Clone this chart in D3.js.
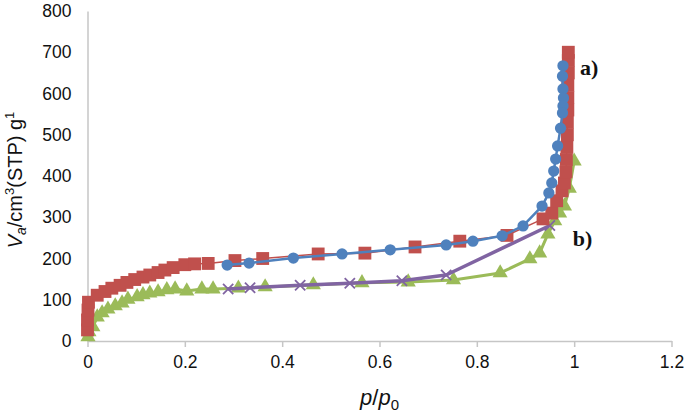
<!DOCTYPE html>
<html><head><meta charset="utf-8">
<script src="https://cdn.jsdelivr.net/npm/d3@7"></script>
<style>body{margin:0;background:#fff}svg{display:block}</style>
</head><body><svg id="c" width="685" height="413"></svg>
<script>
// a) adsorption (red squares)
const redA = [[0,27],[0,51],[0.001,75],[0.002,94],[0.02,111],[0.036,120],[0.05,128],[0.067,135],[0.081,142],[0.097,149],[0.114,155],[0.128,160],[0.145,166],[0.159,172],[0.176,178],[0.2,185],[0.22,187],[0.248,188],[0.303,195],[0.36,200],[0.474,211],[0.57,213],[0.673,228],[0.765,242],[0.862,256],[0.936,296],[0.954,310],[0.964,340],[0.975,364],[0.98,383],[0.983,410],[0.984,440],[0.985,470],[0.986,500],[0.986,530],[0.987,560],[0.987,590],[0.987,620],[0.988,650],[0.988,680],[0.988,700]];
// a) desorption (blue circles)
const blueA = [[0.977,667],[0.976,642],[0.977,611],[0.978,589],[0.977,570],[0.976,553],[0.972,516],[0.966,473],[0.962,441],[0.958,412],[0.954,383],[0.948,359],[0.934,327],[0.895,279],[0.852,255],[0.792,242],[0.737,233],[0.622,221],[0.523,211],[0.423,201],[0.332,189],[0.287,184]];
// b) adsorption (green triangles)
const greenB = [[0.001,10],[0.003,22],[0.011,34],[0.02,58],[0.03,68],[0.042,77],[0.057,85],[0.071,92],[0.083,101],[0.102,107],[0.114,112],[0.128,116],[0.145,119],[0.163,124],[0.18,126],[0.204,121],[0.235,126],[0.258,126],[0.31,128],[0.365,131],[0.464,136],[0.564,141],[0.659,143],[0.752,148],[0.848,165],[0.909,199],[0.929,213],[0.946,259],[0.96,291],[0.97,310],[0.98,327],[0.99,370],[1.0,436]];
// b) desorption (purple crosses)
const purpleB = [[0.95,280],[0.737,160],[0.646,146],[0.539,140],[0.437,135],[0.334,129],[0.289,126]];
const xTicks = [0,0.2,0.4,0.6,0.8,1,1.2];
const yTicks = [0,100,200,300,400,500,600,700,800];
const notes = [{t:"a)",x:1.012,y:645},{t:"b)",x:0.997,y:230}];

const svg = d3.select("#c");
const x = d3.scaleLinear().domain([0,1.2]).range([87.5,671.5]);
const y = d3.scaleLinear().domain([0,800]).range([341,11]);
const axisCol = "#c6c6c6";

// x axis
const gx = svg.append("g").attr("transform","translate(0,341)")
  .call(d3.axisBottom(x).tickValues(xTicks).tickFormat(d=>String(d)).tickSize(6).tickSizeOuter(0));
gx.select(".domain").attr("stroke",axisCol).attr("stroke-width",1.5);
gx.selectAll(".tick line").attr("stroke",axisCol).attr("stroke-width",1.5);
gx.selectAll(".tick text").attr("font-family","Liberation Sans, Arial, sans-serif").attr("font-size",17.5).attr("fill","#111").attr("dy","1.05em");

// y axis
const gy = svg.append("g").attr("transform","translate(87.5,0)")
  .call(d3.axisLeft(y).tickValues(yTicks).tickSize(0).tickPadding(16).tickSizeOuter(0));
gy.select(".domain").attr("stroke",axisCol).attr("stroke-width",1.5);
gy.selectAll(".tick text").attr("font-family","Liberation Sans, Arial, sans-serif").attr("font-size",17.5).attr("fill","#111");

const line = d3.line().x(d=>x(d[0])).y(d=>y(d[1]));

function series(data, color, lw, sym, size, filled){
  svg.append("path").datum(data).attr("d",line).attr("fill","none").attr("stroke",color).attr("stroke-width",lw).attr("stroke-linejoin","round");
  svg.append("g").selectAll("path").data(data).join("path")
    .attr("transform",d=>`translate(${x(d[0])},${y(d[1])})`)
    .attr("d",d3.symbol().type(sym).size(size))
    .attr("fill",filled?color:"none").attr("stroke",filled?"none":color).attr("stroke-width",filled?0:1.8);
}
series(greenB,"#9BBB59",3,d3.symbolTriangle,100,true);
series(purpleB,"#8064A2",3.5,d3.symbolX,70,false);
series(redA,"#C0504D",1.5,d3.symbolSquare,165,true);
series(blueA,"#4F81BD",2.5,d3.symbolCircle,100,true);

svg.selectAll("text.note").data(notes).join("text").attr("class","note")
  .attr("x",d=>x(d.x)).attr("y",d=>y(d.y)).text(d=>d.t)
  .attr("font-family","Liberation Serif, Times New Roman, serif").attr("font-weight","bold").attr("font-size",22).attr("fill","#111");

// x title
const xt = svg.append("text").attr("x",x(0.6)).attr("y",405).attr("text-anchor","middle")
  .attr("font-family","Liberation Sans, Arial, sans-serif").attr("font-size",22).attr("fill","#111");
xt.append("tspan").attr("font-style","italic").text("p");
xt.append("tspan").text("/");
xt.append("tspan").attr("font-style","italic").text("p");
xt.append("tspan").attr("font-size",15).attr("dy",5).text("0");

// y title
const yt = svg.append("text").attr("transform","translate(22,180) rotate(-90)").attr("text-anchor","middle")
  .attr("font-family","Liberation Sans, Arial, sans-serif").attr("font-size",20).attr("fill","#111");
yt.append("tspan").attr("font-style","italic").text("V");
yt.append("tspan").attr("font-style","italic").attr("font-size",14).attr("dy",4).text("a");
yt.append("tspan").attr("dy",-4).text("/cm");
yt.append("tspan").attr("font-size",13).attr("dy",-8).text("3");
yt.append("tspan").attr("dy",8).text("(STP) g");
yt.append("tspan").attr("font-size",13).attr("dy",-8).text("1");
</script></body></html>
